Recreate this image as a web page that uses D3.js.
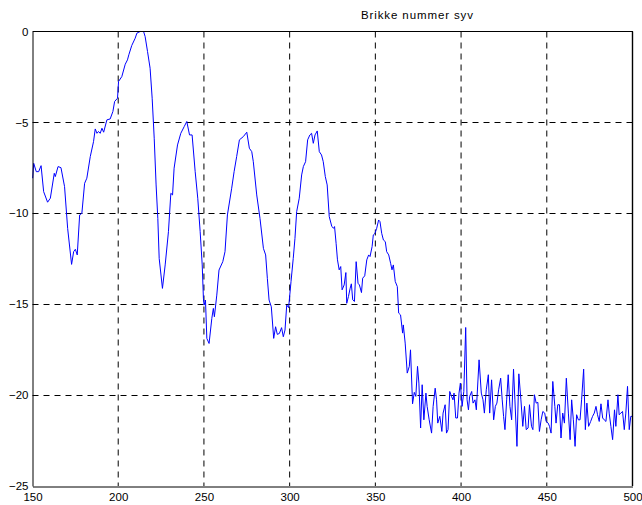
<!DOCTYPE html>
<html>
<head>
<meta charset="utf-8">
<script src="https://cdn.jsdelivr.net/npm/d3@7"></script>
<style>
  html, body { margin: 0; padding: 0; background: #fff; }
  svg { display: block; }
  text { font-family: "Liberation Sans", Arial, Helvetica, sans-serif; fill: #000; }
</style>
</head>
<body>
<svg id="chart" width="642" height="505"></svg>
<script>
// ---- data ----
const title = "Brikke nummer syv";
const xTicks = [150, 200, 250, 300, 350, 400, 450, 500];
const yTicks = [0, -5, -10, -15, -20, -25];
const xDomain = [150, 500];
const yDomain = [-25, 0];

const sampleX = [
  150.1,150.7,152.2,153.6,155.0,156.5,158.8,160.4,162.7,163.3,164.9,166.6,168.7,170.5,172.8,174.0,175.0,176.1,177.5,178.8,
  180.4,181.7,183.7,185.6,186.6,187.6,188.5,189.5,190.5,191.5,193.4,195.3,196.9,197.9,199.6,200.2,202.1,204.1,205.4,206.2,
  207.9,209.9,210.9,212.8,214.8,215.7,217.1,218.6,219.8,221.0,222.1,223.1,223.9,225.8,227.4,229.3,230.7,231.7,232.6,234.6,
  236.5,238.5,240.0,241.6,243.1,244.9,246.4,247.8,249.0,249.7,250.1,250.9,251.7,253.0,254.6,255.5,256.1,257.5,258.8,261.0,
  262.3,263.7,266.2,267.6,269.1,270.7,273.0,275.0,276.5,277.9,278.8,280.8,282.7,284.7,286.0,287.0,288.0,289.3,290.7,291.8,
  292.8,294.0,295.3,296.3,297.3,298.3,299.4,300.8,302.1,303.1,304.1,305.6,307.0,308.0,309.3,310.5,311.8,312.8,313.8,314.8,
  316.1,317.3,318.6,319.6,320.8,321.9,323.1,
  324.6,325.6,326.2,327.1,327.9,328.9,329.8,330.6,331.8,332.8,333.3,334.3,335.3,336.0,336.8,337.8,338.8,339.9,340.7,341.9,
  342.6,343.8,345.0,346.1,346.9,348.1,348.8,349.8,350.8,351.9,352.7,353.7,354.7,355.8,356.6,357.8,358.9,359.7,360.5,361.6,
  362.8,363.6,364.7,365.9,366.3,367.4,368.6,369.8,370.5,371.7,372.7,373.6,374.6,375.4,376.4,377.3,378.3,379.5,380.2,381.4,
  382.8,383.7,384.9,385.7,386.4,387.6,388.8,389.5,390.7,391.5,392.4,393.4,394.4,395.3,395.9,396.9,397.9,398.8,399.6,400.6,
  401.6,402.7,403.5,404.3,405.0,406.2,407.0,408.1,408.9,410.5,411.8,412.8,413.6,414.7,415.9,416.7,417.8,419.0,420.0,420.9,
  421.9,423.1,424.0,424.8,425.6,426.6,427.5,428.5,429.5,430.6,431.4,432.6,433.7,434.9,436.0,437.0,438.0,439.1,439.9,441.1,
  441.9,442.8,443.8,444.8,445.7,446.7,447.7,448.8,449.6,450.8,451.6,452.5,453.5,454.7,455.4,456.4,457.4,458.3,459.3,460.3,
  461.4,462.6,463.6,464.5,465.5,466.5,467.4,468.4,469.4,470.3,471.5,472.5,473.4,474.4,475.6,476.7,477.7,478.7,479.6,480.6,
  481.6,482.6,483.5,484.5,485.7,486.4,487.4,488.4,489.5,490.3,491.5,492.2,493.2,494.2,495.2,496.1,497.1,498.1,499.0,500.0
];
const sampleY = [
  -8.07,-7.25,-7.71,-7.71,-7.38,-8.81,-9.39,-9.17,-7.80,-7.98,-7.43,-7.49,-8.53,-10.83,-12.81,-12.11,-11.98,-12.29,-10.09,-10.00,
  -8.35,-8.07,-6.88,-6.06,-5.36,-5.60,-5.50,-5.60,-5.32,-5.54,-4.86,-4.81,-4.40,-3.85,-3.67,-2.75,-2.48,-1.80,-1.56,-1.28,
  -0.77,-0.37,-0.09,0.00,0.00,-0.28,-1.10,-2.02,-3.67,-5.87,-8.44,-10.28,-12.48,-14.13,-12.84,-11.01,-8.90,-8.99,-7.52,-6.24,
  -5.60,-5.23,-4.95,-5.69,-5.69,-7.71,-9.17,-11.01,-12.84,-14.68,-15.05,-14.77,-16.88,-17.16,-15.78,-15.23,-15.69,-14.50,-13.12,-12.66,
  -12.11,-10.09,-8.62,-7.71,-6.88,-5.96,-5.78,-5.54,-6.42,-6.61,-7.16,-8.99,-10.28,-11.93,-12.29,-13.58,-14.77,-15.14,-16.88,-16.24,
  -16.66,-16.61,-16.29,-16.79,-16.42,-15.05,-15.19,-13.76,-12.48,-11.38,-9.91,-9.17,-7.89,-7.43,-7.16,-5.96,-5.69,-5.60,-6.15,-5.69,
  -5.47,-6.61,-6.79,-7.16,-7.98,-8.44,-10.18,
  -10.73,-10.82,-10.73,-11.65,-12.56,-13.11,-12.93,-14.21,-13.94,-13.26,-14.95,-14.58,-14.12,-13.88,-14.76,-14.85,-12.66,-13.85,-13.94,-14.36,
  -13.57,-13.44,-12.56,-12.29,-12.38,-11.83,-11.19,-11.10,-10.82,-10.37,-10.46,-11.10,-11.47,-11.56,-12.11,-12.29,-12.75,-13.11,-12.84,-13.75,
  -14.03,-15.49,-15.59,-16.59,-16.14,-17.14,-18.79,-18.42,-17.51,-20.48,-19.85,-20.07,-18.42,-19.34,-21.81,-19.43,-21.36,-19.89,-20.62,-21.36,
  -22.09,-20.62,-19.62,-20.26,-21.54,-21.17,-22.00,-20.99,-20.53,-22.09,-21.90,-19.80,-20.07,-20.26,-19.89,-21.26,-21.26,-19.89,-19.34,-20.62,
  -19.80,-16.28,-20.26,-20.81,-20.07,-19.80,-20.44,-20.26,-20.81,-18.06,-19.89,-20.26,-20.99,-19.71,-18.88,-20.99,-19.16,-21.36,-20.62,-20.44,
  -19.71,-19.07,-20.26,-21.17,-21.90,-20.26,-18.88,-20.62,-21.36,-18.57,-20.26,-22.82,-18.83,-20.26,-21.72,-20.62,-21.90,-21.81,-20.53,-21.72,
  -21.90,-19.98,-20.44,-20.40,-22.00,-21.36,-20.90,-20.99,-21.45,-21.54,-21.72,-22.09,-19.25,-20.62,-21.54,-20.53,-20.53,-22.36,-20.99,-21.54,
  -19.07,-20.99,-22.45,-20.26,-21.36,-22.82,-21.08,-21.36,-21.36,-20.26,-18.57,-21.90,-20.44,-21.72,-21.45,-21.17,-20.99,-20.62,-21.08,-21.45,
  -20.48,-21.26,-21.36,-21.45,-20.26,-20.99,-21.72,-22.45,-20.81,-21.72,-19.98,-21.08,-20.99,-20.90,-21.90,-20.99,-19.52,-21.90,-21.17,-21.17
];

// ---- drawing ----
const plot = { left: 32.5, right: 632.5, top: 31.5, bottom: 486 };

const svg = d3.select("#chart");
const x = d3.scaleLinear().domain(xDomain).range([plot.left, plot.right]);
const y = d3.scaleLinear().domain(yDomain).range([plot.bottom, plot.top]);
const crisp = v => Math.round(v - 0.5) + 0.5;

const grid = svg.append("g").attr("class", "grid");
grid.selectAll("line.v")
  .data(xTicks.filter(t => t !== xDomain[0] && t !== xDomain[1]))
  .join("line")
  .attr("class", "v")
  .attr("x1", d => x(d)).attr("x2", d => x(d))
  .attr("y1", plot.top).attr("y2", plot.bottom)
  .attr("stroke", "#000").attr("stroke-width", 1)
  .attr("stroke-dasharray", "6,5");
grid.selectAll("line.h")
  .data(yTicks.filter(t => t !== yDomain[0] && t !== yDomain[1]))
  .join("line")
  .attr("class", "h")
  .attr("x1", plot.left).attr("x2", plot.right)
  .attr("y1", d => crisp(y(d))).attr("y2", d => crisp(y(d)))
  .attr("stroke", "#000").attr("stroke-width", 1)
  .attr("stroke-dasharray", "6,5");

const pts = sampleX.map((v, i) => [v, sampleY[i]]);
const line = d3.line().x(d => x(d[0])).y(d => y(d[1]));
svg.append("path")
  .datum(pts)
  .attr("d", line)
  .attr("fill", "none")
  .attr("stroke", "#0000ff")
  .attr("stroke-width", 1);

const axisB = d3.axisBottom(x).tickValues(xTicks).tickSize(0).tickPadding(6).tickFormat(d3.format("d"));
const axisL = d3.axisLeft(y).tickValues(yTicks).tickSize(0).tickPadding(4).tickFormat(d3.format("d"));

const gB = svg.append("g").attr("transform", `translate(0,${crisp(plot.bottom)})`).call(axisB);
const gL = svg.append("g").attr("transform", `translate(${crisp(plot.left)},0)`).call(axisL);
[gB, gL].forEach(g => {
  g.select(".domain").attr("stroke", "#000").attr("stroke-width", 1);
  g.selectAll("text").attr("font-size", "11.5px")
    .attr("font-family", "'Liberation Sans', Arial, sans-serif").attr("fill", "#000");
});
svg.append("line").attr("x1", plot.left).attr("x2", plot.right + 0.5)
  .attr("y1", crisp(plot.top)).attr("y2", crisp(plot.top)).attr("stroke", "#000");
svg.append("line").attr("x1", plot.right).attr("x2", plot.right)
  .attr("y1", plot.top).attr("y2", plot.bottom).attr("stroke", "#000").attr("stroke-width", 1.4);

svg.append("text")
  .attr("x", 417).attr("y", 19)
  .attr("text-anchor", "middle")
  .attr("font-size", "11.5px")
  .attr("textLength", 112)
  .attr("lengthAdjust", "spacing")
  .text(title);
</script>
</body>
</html>
